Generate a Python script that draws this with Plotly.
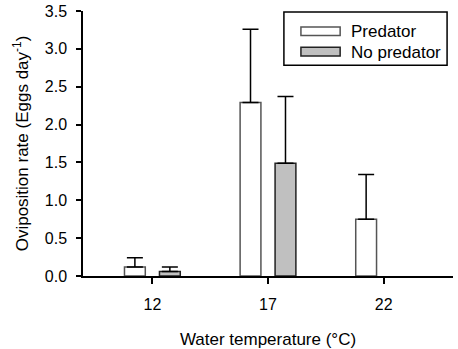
import plotly.graph_objects as go

# ---- data ----
categories = ["12", "17", "22"]
series_names = ["Predator", "No predator"]
predator_mean = [0.12, 2.29, 0.75]
predator_err = [0.12, 0.97, 0.59]
nopred_mean = [0.06, 1.49, 0.0]
nopred_err = [0.06, 0.88, 0.0]
y_ticks = [0.0, 0.5, 1.0, 1.5, 2.0, 2.5, 3.0, 3.5]

FONT = "Liberation Sans, Arial, sans-serif"
fills = ["#ffffff", "#c0c0c0"]
edges = ["#555555", "#222222"]

fig = go.Figure()
for name, mean, err, fc, ec in [
    (series_names[0], predator_mean, predator_err, fills[0], edges[0]),
    (series_names[1], nopred_mean, nopred_err, fills[1], edges[1]),
]:
    # a zero mean draws no bar and no error bar (as in the original figure)
    yv = [v if v > 0 else None for v in mean]
    ev = [e if v > 0 else None for v, e in zip(mean, err)]
    fig.add_trace(go.Bar(
        x=categories, y=yv, name=name,
        marker=dict(color=fc, line=dict(color=ec, width=1.5)),
        error_y=dict(type="data", symmetric=False, array=ev,
                     arrayminus=[0 if e is not None else None for e in ev],
                     color="black", thickness=1.5, width=8),
        showlegend=False,
    ))

# custom legend (box + long flat swatches + labels)
shapes = [
    dict(type="rect", xref="paper", yref="paper", x0=0.543, x1=0.984,
         y0=0.795, y1=0.996, line=dict(color="black", width=1.5),
         fillcolor="white", layer="above"),
    dict(type="rect", xref="paper", yref="paper", x0=0.589, x1=0.695,
         y0=0.908, y1=0.940, line=dict(color=edges[0], width=1.5),
         fillcolor=fills[0], layer="above"),
    dict(type="rect", xref="paper", yref="paper", x0=0.589, x1=0.695,
         y0=0.830, y1=0.863, line=dict(color=edges[1], width=1.5),
         fillcolor=fills[1], layer="above"),
]
annotations = [
    dict(xref="paper", yref="paper", x=0.719, y=0.923, text=series_names[0],
         showarrow=False, xanchor="left", yanchor="middle",
         font=dict(family=FONT, size=17, color="black")),
    dict(xref="paper", yref="paper", x=0.719, y=0.845, text=series_names[1],
         showarrow=False, xanchor="left", yanchor="middle",
         font=dict(family=FONT, size=17, color="black")),
]

fig.update_layout(
    width=458, height=349,
    margin=dict(l=83, r=5, t=11, b=73),
    paper_bgcolor="white", plot_bgcolor="white",
    barmode="group", bargap=0.395, bargroupgap=0.405,
    font=dict(family=FONT, size=16, color="black"),
    shapes=shapes, annotations=annotations,
    xaxis=dict(
        type="category", range=[-0.6, 2.6], automargin=False,
        showline=True, linecolor="black", linewidth=1.5,
        ticks="outside", ticklen=6, tickwidth=1.5, tickcolor="black",
        showgrid=False, ticklabelstandoff=7,
        title=dict(text="Water temperature (°C)", font=dict(size=17), standoff=21),
    ),
    yaxis=dict(
        range=[0, 3.5], tickvals=y_ticks, tickformat=".1f", automargin=False,
        showline=True, linecolor="black", linewidth=1.5,
        ticks="outside", ticklen=5, tickwidth=1.5, tickcolor="black",
        showgrid=False, zeroline=False, ticklabelstandoff=6,
        title=dict(text="Oviposition rate (Eggs day<sup>-1</sup>)",
                   font=dict(size=17), standoff=12),
    ),
)

fig.write_html("out.html", post_script="document.body.style.margin='0';",
               config={"displayModeBar": False})
